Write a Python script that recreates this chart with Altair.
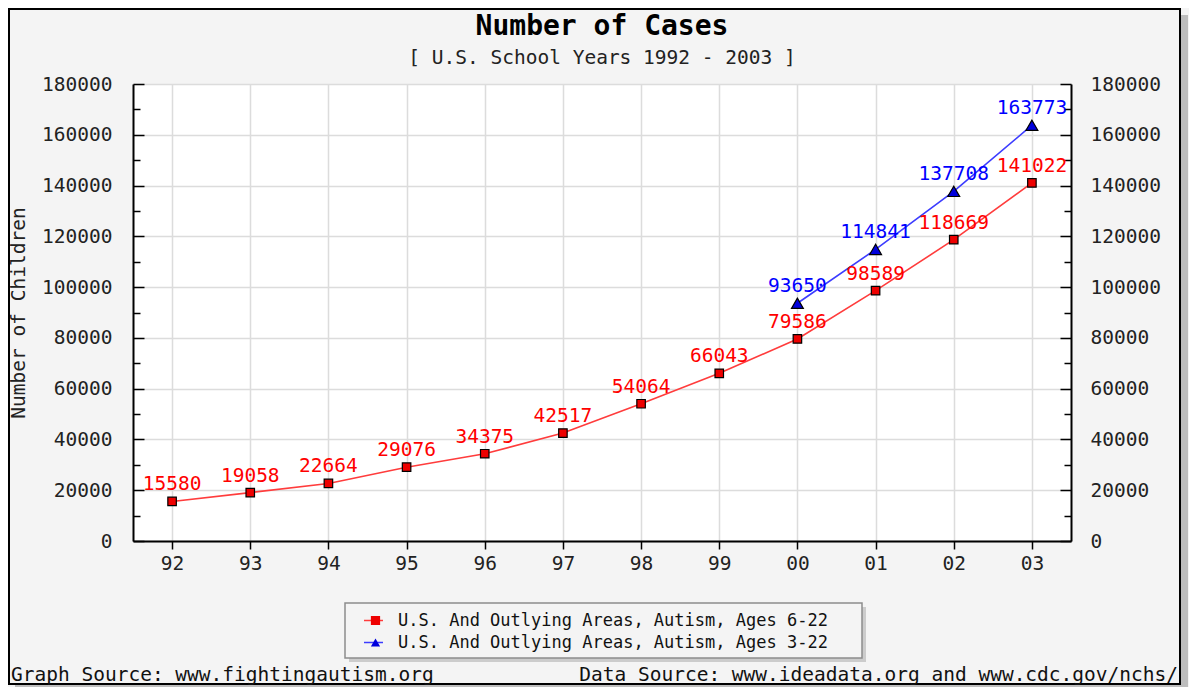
import altair as alt
import pandas as pd

# ---------------- data ----------------
years = ["92", "93", "94", "95", "96", "97", "98", "99", "00", "01", "02", "03"]
ages_6_22 = [15580, 19058, 22664, 29076, 34375, 42517, 54064, 66043, 79586, 98589, 118669, 141022]
years_3_22 = ["00", "01", "02", "03"]
ages_3_22 = [93650, 114841, 137708, 163773]
series_names = ["U.S. And Outlying Areas, Autism, Ages 6-22",
                "U.S. And Outlying Areas, Autism, Ages 3-22"]
marker_names = [s + " " for s in series_names]  # separate legend for the markers
label_colors = ["#ff0000", "#0000ff"]
line_colors = ["#ff3c3c", "#3c3cff"]
marker_fill = ["#ee0000", "#0000dd"]
marker_shapes = ["square", "triangle-up"]
marker_sizes = [72, 140]
y_ticks_major = list(range(0, 180001, 20000))
y_ticks_minor = list(range(10000, 180000, 20000))
title_text = "Number of Cases"
subtitle_text = "[ U.S. School Years 1992 - 2003 ]"
y_title = "Number of Children"
footer_left = "Graph Source: www.fightingautism.org"
footer_right = "Data Source: www.ideadata.org and www.cdc.gov/nchs/"

rows = []
for i, (yr, v) in enumerate(zip(years, ages_6_22)):
    rows.append({"year": yr, "value": v, "series": series_names[0], "mseries": marker_names[0],
                 "label": str(v), "idx": i})
for yr, v in zip(years_3_22, ages_3_22):
    rows.append({"year": yr, "value": v, "series": series_names[1], "mseries": marker_names[1],
                 "label": str(v), "idx": years.index(yr)})
df = pd.DataFrame(rows)

W, H = 938, 457
FONT = "DejaVu Sans Mono"
FS = 19.5
GRID = "#dcdcdc"

x_enc = alt.X("year:O", sort=years,
              scale=alt.Scale(type="point", domain=years, padding=0.5),
              axis=alt.Axis(title=None, grid=True, gridColor=GRID, gridWidth=1.5,
                            domainColor="black", domainWidth=2, tickColor="black",
                            tickSize=8, tickWidth=1.5, labelFontSize=FS, labelPadding=5,
                            labelAngle=0, labelColor="#222"))
y_scale = alt.Scale(domain=[0, 180000], nice=False, zero=True)


def tick_axis(orient, values, size):
    return alt.Axis(orient=orient, offset=-W, values=values, tickSize=size, tickWidth=1.5,
                    tickColor="black", labels=False, domain=False, grid=False, title=None)


left_axis = alt.Axis(orient="left", values=y_ticks_major, format="d", grid=True, gridColor=GRID,
                     gridWidth=1.5, ticks=False, tickSize=0, domain=True, domainColor="black",
                     domainWidth=2, labelFontSize=FS, labelPadding=21, labelColor="#222",
                     labelOverlap=False, labelFlush=False, title=y_title, titleFontSize=FS,
                     titleFontWeight="normal", titleColor="#222", titleX=-115, titleY=H / 2,
                     titleAngle=270, titleAlign="center", titleBaseline="middle")
right_axis = alt.Axis(orient="right", values=y_ticks_major, format="d", grid=False, ticks=False,
                      tickSize=0, domain=True, domainColor="black", domainWidth=2,
                      labelFontSize=FS, labelPadding=19, labelColor="#222", labelOverlap=False,
                      labelFlush=False, title=None)

line_legend = alt.Legend(orient="none", legendX=230, legendY=528, title=None, symbolType="stroke",
                         symbolSize=361, symbolStrokeWidth=1.5, labelFontSize=17, labelOffset=14,
                         labelColor="#111", labelLimit=700, rowPadding=4, padding=0, clipHeight=17)
marker_legend = alt.Legend(orient="none", legendX=234, legendY=528, title=None, symbolSize=85,
                           symbolStrokeColor="black", symbolStrokeWidth=1, symbolOpacity=1,
                           labelFontSize=17, labelOffset=14, labelOpacity=0, labelLimit=700,
                           rowPadding=4, padding=0, clipHeight=17)

lines = alt.Chart(df).mark_line(strokeWidth=1.6).encode(
    x=x_enc,
    y=alt.Y("value:Q", scale=y_scale, axis=left_axis),
    stroke=alt.Stroke("series:N", scale=alt.Scale(domain=series_names, range=line_colors),
                      legend=line_legend),
    order=alt.Order("idx:Q"),
)


def marker_layer(k, axis):
    return alt.Chart(df).transform_filter(alt.datum.mseries == marker_names[k]).mark_point(
        filled=True, opacity=1, stroke="black", strokeWidth=1.2, size=marker_sizes[k]).encode(
        x=x_enc,
        y=alt.Y("value:Q", scale=y_scale, axis=axis),
        fill=alt.Fill("mseries:N", scale=alt.Scale(domain=marker_names, range=marker_fill),
                      legend=marker_legend),
        shape=alt.Shape("mseries:N", scale=alt.Scale(domain=marker_names, range=marker_shapes),
                        legend=marker_legend),
    )


points_red = marker_layer(0, right_axis)
points_blue = marker_layer(1, None)

labels = alt.Chart(df).mark_text(fontSize=FS, baseline="alphabetic", dy=-11).encode(
    x=x_enc,
    y=alt.Y("value:Q", scale=y_scale, axis=tick_axis("right", y_ticks_major, 11)),
    text="label:N",
    color=alt.Color("series:N", scale=alt.Scale(domain=series_names, range=label_colors),
                    legend=None),
)


def ghost(axis):
    return alt.Chart(df).mark_point(opacity=0).encode(
        x=x_enc, y=alt.Y("value:Q", scale=y_scale, axis=axis))


g1 = ghost(tick_axis("right", y_ticks_minor, 7))
g2 = ghost(tick_axis("left", y_ticks_major, 11))
g3 = ghost(tick_axis("left", y_ticks_minor, 7))

one = pd.DataFrame({"k": [0]})
frame_shadow_r = alt.Chart(one).mark_rect(color="#bdbdbd").encode(
    x=alt.value(1048), x2=alt.value(1055), y=alt.value(-69), y2=alt.value(603))
frame_shadow_b = alt.Chart(one).mark_rect(color="#bdbdbd").encode(
    x=alt.value(-118), x2=alt.value(1055), y=alt.value(601), y2=alt.value(603))
frame = alt.Chart(one).mark_rect(fillOpacity=0, stroke="black", strokeWidth=2).encode(
    x=alt.value(-124), x2=alt.value(1047), y=alt.value(-75), y2=alt.value(600))
leg_shadow = alt.Chart(one).mark_rect(color="#cccccc").encode(
    x=alt.value(216), x2=alt.value(733), y=alt.value(523), y2=alt.value(578))
leg_box = alt.Chart(one).mark_rect(fill="#f4f4f4", stroke="#8c8c8c", strokeWidth=1.5).encode(
    x=alt.value(212), x2=alt.value(729), y=alt.value(519), y2=alt.value(574))

title_mark = alt.Chart(pd.DataFrame({"t": [title_text]})).mark_text(
    align="center", baseline="alphabetic", fontSize=28, fontWeight="bold", color="black").encode(
    x=alt.value(W / 2), y=alt.value(-49), text="t:N")
subtitle_mark = alt.Chart(pd.DataFrame({"t": [subtitle_text]})).mark_text(
    align="center", baseline="alphabetic", fontSize=FS, color="#222").encode(
    x=alt.value(W / 2), y=alt.value(-20), text="t:N")

foot_l = alt.Chart(pd.DataFrame({"t": [footer_left]})).mark_text(
    align="left", baseline="alphabetic", fontSize=FS, color="#111").encode(
    x=alt.value(-122), y=alt.value(597), text="t:N")
foot_r = alt.Chart(pd.DataFrame({"t": [footer_right]})).mark_text(
    align="right", baseline="alphabetic", fontSize=FS, color="#111").encode(
    x=alt.value(1045), y=alt.value(597), text="t:N")

chart = alt.layer(
    frame_shadow_r, frame_shadow_b, frame, leg_shadow, leg_box, title_mark, subtitle_mark,
    foot_l, foot_r, lines, points_red, points_blue, labels, g1, g2, g3,
).resolve_axis(y="independent").properties(
    width=W, height=H,
    padding={"left": 125, "top": 76, "right": 118, "bottom": 146},
    autosize=alt.AutoSizeParams(type="none"),
    background="#f4f4f4",
).configure(font=FONT).configure_view(fill="white", strokeWidth=0)

chart.save("out.html", embed_options={"renderer": "svg", "actions": False})
